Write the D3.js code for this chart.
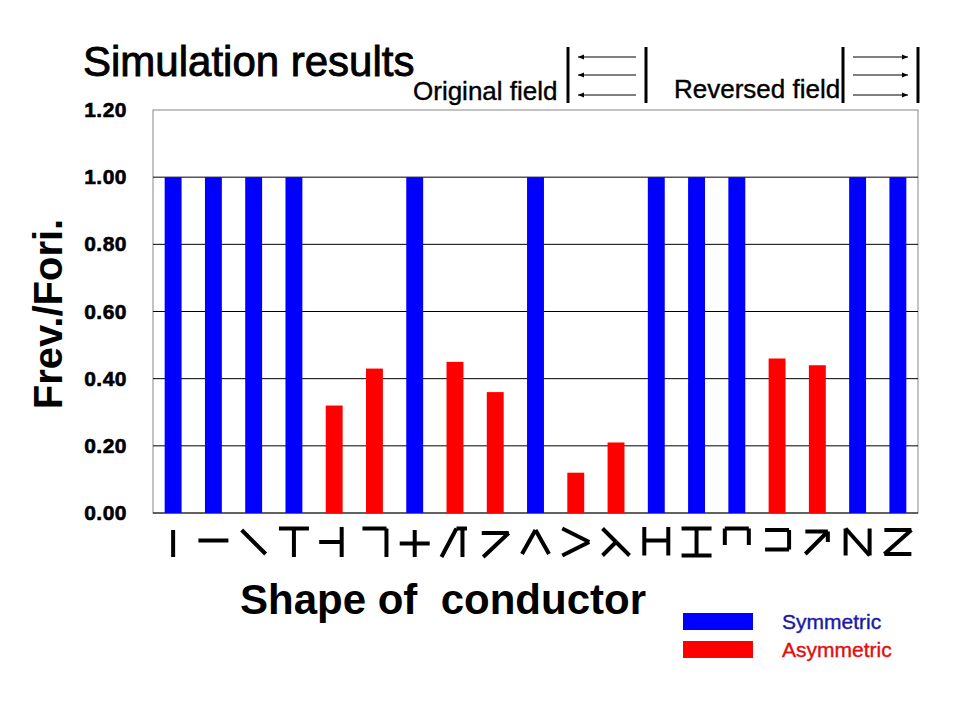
<!DOCTYPE html><html><head><meta charset="utf-8"><script src="https://cdn.jsdelivr.net/npm/d3@7"></script>
<style>body{margin:0;background:#fff}text{font-family:"Liberation Sans",Arial,sans-serif}</style></head><body><svg id="c" width="960" height="720"></svg>
<script>
const categories=["I","-","\\","T","-|","7","+","/\\","7/","^",">","λ","H","I2","⊓","⊐","7/2","N","Z"];
const values=[1,1,1,1,0.32,0.43,1,0.45,0.36,1,0.12,0.21,1,1,1,0.46,0.44,1,1];
const types=["S","S","S","S","A","A","S","A","A","S","A","A","S","S","S","A","A","S","S"];
const yTicks=[0,0.2,0.4,0.6,0.8,1.0,1.2];
const glyphs=[
 [[0.5,0.1,0.5,1]],
 [[0,0.45,1,0.45]],
 [[0.1,0.1,0.9,0.9]],
 [[0,0.05,1,0.05],[0.5,0.05,0.5,1]],
 [[0,0.5,0.75,0.5],[0.75,0,0.75,1]],
 [[0.1,0.05,0.9,0.05],[0.9,0.05,0.9,1]],
 [[0,0.55,1,0.55],[0.5,0.1,0.5,1]],
 [[0.05,1,0.55,0.05],[0.55,0.05,0.9,0.05],[0.75,0.05,0.75,1]],
 [[0.05,0.2,0.95,0.2],[0.95,0.2,0.1,1]],
 [[0.05,0.9,0.5,0.1],[0.5,0.1,0.95,0.9]],
 [[0.05,0.05,0.95,0.5],[0.95,0.5,0.05,0.95]],
 [[0.05,0.05,0.5,0.5],[0.5,0.5,0.95,0.95],[0.5,0.5,0.05,0.95]],
 [[0.1,0,0.1,0.95],[0.9,0,0.9,0.95],[0.1,0.45,0.9,0.45]],
 [[0,0.05,1,0.05],[0.5,0.05,0.5,0.95],[0,0.95,1,0.95]],
 [[0.1,0.6,0.1,0.05],[0.1,0.05,0.9,0.05],[0.9,0.05,0.9,0.6]],
 [[0.1,0.1,0.9,0.1],[0.9,0.1,0.9,0.75],[0.9,0.75,0.1,0.75]],
 [[0.1,0.15,0.85,0.15],[0.85,0.15,0.85,0.5],[0.85,0.15,0.1,0.9]],
 [[0.1,0.95,0.1,0.05],[0.1,0.05,0.9,0.95],[0.9,0.95,0.9,0.05]],
 [[0.05,0.1,0.95,0.1],[0.95,0.1,0.05,0.9],[0.05,0.9,0.95,0.9]]
];
const svg=d3.select("#c");
const L=153,R=918,T=110,B=513;
const x=d3.scaleBand().domain(categories).range([L,R]).paddingInner(0.58).paddingOuter(0.29);
const y=d3.scaleLinear().domain([0,1.2]).range([B,T]);
svg.append("rect").attr("x",L).attr("y",T).attr("width",R-L).attr("height",B-T).attr("fill","none").attr("stroke","#888");
svg.selectAll(".g").data(yTicks.slice(1,-1)).join("line").attr("x1",L).attr("x2",R).attr("y1",d=>y(d)).attr("y2",d=>y(d)).attr("stroke","#000");
svg.append("line").attr("x1",L).attr("x2",R).attr("y1",B).attr("y2",B).attr("stroke","#000");
svg.selectAll(".bar").data(values).join("rect").attr("x",(d,i)=>x(categories[i])).attr("width",x.bandwidth()).attr("y",d=>y(d)).attr("height",d=>B-y(d)).attr("fill",(d,i)=>types[i]=="S"?"#0000ff":"#ff0000");
svg.selectAll(".yt").data(yTicks).join("text").attr("x",127).attr("y",d=>y(d)+7).attr("text-anchor","end").attr("font-size",21).attr("font-weight","bold").attr("stroke","#000").attr("stroke-width",0.6).attr("letter-spacing",0.5).text(d=>d.toFixed(2));
const gw=30,gh=30,gy=527;
glyphs.forEach((segs,i)=>{const cx=x(categories[i])+x.bandwidth()/2;
 segs.forEach(s=>svg.append("line").attr("x1",cx-gw/2+s[0]*gw).attr("y1",gy+s[1]*gh).attr("x2",cx-gw/2+s[2]*gw).attr("y2",gy+s[3]*gh).attr("stroke","#000").attr("stroke-width",4));});
svg.append("text").attr("x",83).attr("y",76).attr("font-size",42).attr("stroke","#000").attr("stroke-width",0.9).text("Simulation results");
svg.append("text").attr("transform","translate(62,314) rotate(-90)").attr("text-anchor","middle").attr("font-size",40).attr("font-weight","bold").text("Frev./Fori.");
svg.append("text").attr("x",240).attr("y",614).attr("font-size",42).attr("font-weight","bold").attr("xml:space","preserve").text("Shape of  conductor");
svg.append("text").attr("x",413).attr("y",100).attr("font-size",26).attr("stroke","#000").attr("stroke-width",0.4).text("Original field");
svg.append("text").attr("x",674).attr("y",98).attr("font-size",26).attr("stroke","#000").attr("stroke-width",0.4).text("Reversed field");
const defs=svg.append("defs");
defs.append("marker").attr("id","ah").attr("viewBox","0 0 10 10").attr("refX",10).attr("refY",5).attr("markerWidth",8).attr("markerHeight",6).attr("orient","auto-start-reverse").append("path").attr("d","M0,1L10,5L0,9z").attr("fill","#000");
[[568,646,true],[843,918,false]].forEach(([a,b,left])=>{
 [a,b].forEach(v=>svg.append("line").attr("x1",v).attr("x2",v).attr("y1",47).attr("y2",103).attr("stroke","#000").attr("stroke-width",3));
 [57,75,95].forEach(yy=>{const l=svg.append("line").attr("x1",a+10).attr("x2",b-10).attr("y1",yy).attr("y2",yy).attr("stroke","#000").attr("stroke-width",1);
  if(left)l.attr("marker-start","url(#ah)");else l.attr("marker-end","url(#ah)");});
});
svg.append("rect").attr("x",683).attr("y",613).attr("width",70).attr("height",17).attr("fill","#0000ff");
svg.append("rect").attr("x",683).attr("y",641).attr("width",70).attr("height",17).attr("fill","#ff0000");
svg.append("text").attr("x",782).attr("y",629).attr("font-size",21).attr("fill","#1a1aa0").attr("stroke","#1a1aa0").attr("stroke-width",0.4).text("Symmetric");
svg.append("text").attr("x",782).attr("y",657).attr("font-size",21).attr("fill","#e01010").attr("stroke","#e01010").attr("stroke-width",0.4).text("Asymmetric");
</script></body></html>
